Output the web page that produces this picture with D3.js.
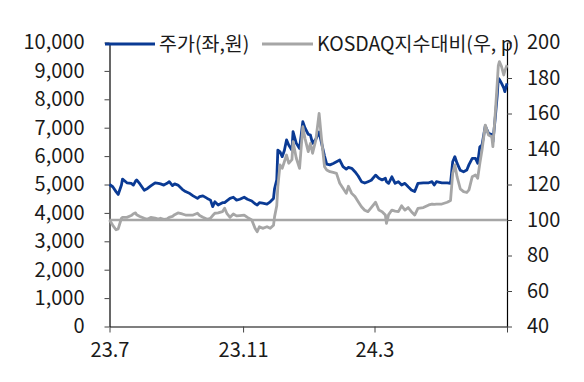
<!DOCTYPE html>
<html>
<head>
<meta charset="utf-8">
<script src="https://cdn.jsdelivr.net/npm/d3@7/dist/d3.min.js"></script>
<style>
  html, body { margin: 0; padding: 0; background: #fff; }
  svg { display: block; font-family: "Noto Sans CJK KR", "Noto Sans", sans-serif; }
</style>
</head>
<body>
<svg id="chart" width="584" height="382"></svg>
<script>
// ---- data ----
const dates = [
"2023-07-01","2023-07-04","2023-07-07","2023-07-09","2023-07-12","2023-07-13","2023-07-17","2023-07-21","2023-07-23","2023-07-25",
"2023-07-26","2023-07-29","2023-08-02","2023-08-05","2023-08-08","2023-08-12","2023-08-15","2023-08-17","2023-08-20","2023-08-23",
"2023-08-25","2023-08-28","2023-08-30","2023-09-02","2023-09-06","2023-09-09","2023-09-13","2023-09-16","2023-09-20","2023-09-22",
"2023-09-25","2023-09-29","2023-10-02","2023-10-04","2023-10-06","2023-10-09","2023-10-13","2023-10-15","2023-10-17","2023-10-20",
"2023-10-23","2023-10-26","2023-10-29","2023-11-02","2023-11-05","2023-11-09","2023-11-12","2023-11-14","2023-11-16","2023-11-19",
"2023-11-23","2023-11-26","2023-11-29","2023-11-30","2023-12-02","2023-12-03","2023-12-05","2023-12-07","2023-12-09","2023-12-11",
"2023-12-13","2023-12-16","2023-12-17","2023-12-20","2023-12-23","2023-12-26","2023-12-28","2023-12-31","2024-01-02","2024-01-04",
"2024-01-07","2024-01-10","2024-01-12","2024-01-15","2024-01-17","2024-01-20","2024-01-23","2024-01-26","2024-01-29","2024-02-01",
"2024-02-04","2024-02-06","2024-02-09","2024-02-12","2024-02-15","2024-02-18","2024-02-21","2024-02-24","2024-02-27","2024-03-02",
"2024-03-05","2024-03-08","2024-03-11","2024-03-12","2024-03-14","2024-03-17","2024-03-20","2024-03-23","2024-03-26","2024-03-29",
"2024-04-01","2024-04-04","2024-04-07","2024-04-10","2024-04-15","2024-04-20","2024-04-23","2024-04-25","2024-04-27","2024-05-02",
"2024-05-07","2024-05-10","2024-05-12","2024-05-14","2024-05-16","2024-05-19","2024-05-22","2024-05-25","2024-05-27","2024-05-30",
"2024-06-02","2024-06-04","2024-06-06","2024-06-08","2024-06-11","2024-06-14","2024-06-17","2024-06-18","2024-06-20","2024-06-22",
"2024-06-23","2024-06-24","2024-06-26","2024-06-28","2024-06-29","2024-07-01"
];
const price = [
5000,4920,4750,4650,4980,5190,5060,5040,4980,5120,
5160,5020,4800,4860,4950,5060,5040,5020,4980,5040,
5100,4960,5020,4980,4830,4750,4680,4600,4510,4570,
4600,4510,4450,4220,4390,4280,4360,4360,4420,4510,
4550,4450,4480,4550,4480,4420,4320,4280,4360,4340,
4310,4390,4510,4860,5160,6210,6150,5980,6200,6570,
6390,6210,6860,6450,6270,7210,6990,6770,6740,6450,
6600,6850,6500,6000,5720,5690,5740,5800,5860,5630,
5540,5600,5570,5450,5300,5100,5050,5100,5150,5330,
5220,5160,5220,5100,5040,5270,5040,5100,4980,5040,
4920,4810,4750,5040,5060,5060,5100,4980,5100,5060,
5060,5040,5800,5980,5750,5500,5450,5510,5700,5920,
5920,5750,6330,6390,7060,6800,6760,6500,7280,8140,
8740,8700,8560,8400,8270,8560
];
const kosdaqRel = [
100,97,94.5,95,101,101.5,101.5,102.5,103.5,104,
103,102,101,100.4,101.5,101,100.5,101,100.4,100.6,
101.5,102,103,104,103.4,102.8,102.8,102.8,103.8,102.5,
101.5,100.4,101,102.5,103.8,104,104.7,106.6,103.8,101.5,
103.4,102.3,102.5,102.8,101.5,100,95.3,93.4,96.2,95.3,
96.2,95.3,97,101.9,108,118.8,131,129.1,132.8,136.6,
132,134,144.1,134.8,129.1,152.6,146,138.5,143.2,137.6,
145.1,160,146.9,130,128.2,127.2,126.8,126.3,120.7,117.9,
115,119,115,113.2,110.3,107.5,105.5,104.7,107,110,
105.6,104.7,102.8,98.1,103,105.6,105,104.7,108,105.6,
107,104.7,102.8,106.6,107,108.5,109,108.8,109,109,
110,111,126.3,131,124.4,117.5,116,115.5,117,124.4,
125.4,123.5,132,139.4,153.5,147.9,146.9,141.3,158.2,177,
187,189.2,186.4,181.7,184,187.3
];
const leftTicks = [0,1000,2000,3000,4000,5000,6000,7000,8000,9000,10000];
const rightTicks = [40,60,80,100,120,140,160,180,200];
const xTickDates = ["2023-07-01","2023-11-01","2024-03-01","2024-07-01"];
const xTickLabels = ["23.7","23.11","24.3",""];
const baseLevel = 100;
const seriesNames = ["주가(좌,원)", "KOSDAQ지수대비(우, p)"];

// ---- chart ----
const parse = d3.timeParse("%Y-%m-%d");
const svg = d3.select("#chart");
const L = 109.5, R = 507, T = 42.5, B = 326.5;
const blue = "#0a3a94", gray = "#a6a6a6", ink = "#1a1a1a";

const x = d3.scaleTime().domain([parse("2023-07-01"), parse("2024-07-01")]).range([L, R]);
const yL = d3.scaleLinear().domain([0, 10000]).range([B, T]);
const yR = d3.scaleLinear().domain([40, 200]).range([B, T]);

const rows = dates.map((d, i) => ({ date: parse(d), p: price[i], k: kosdaqRel[i] }));

// axes
const gl = svg.append("g").attr("transform", `translate(${L},0)`)
  .call(d3.axisLeft(yL).tickValues(leftTicks).tickFormat(d3.format(",")).tickSize(5).tickSizeOuter(0).tickPadding(20));
const gr = svg.append("g").attr("transform", `translate(${R},0)`)
  .call(d3.axisRight(yR).tickValues(rightTicks).tickSize(5).tickSizeOuter(0).tickPadding(15));
const gb = svg.append("g").attr("transform", `translate(0,${B})`)
  .call(d3.axisBottom(x).tickValues(xTickDates.map(parse)).tickFormat((d, i) => xTickLabels[i]).tickSize(6).tickSizeOuter(0).tickPadding(10));

[gl, gr, gb].forEach(g => {
  g.select(".domain").attr("stroke", "#000").attr("stroke-width", 1.2);
  g.selectAll(".tick line").attr("stroke", "#444");
  g.selectAll(".tick text").attr("fill", ink).style("font-size", "20px")
    .style("font-family", '"Noto Sans CJK KR", "Noto Sans", sans-serif');
});

// baseline at 100
svg.append("line")
  .attr("x1", L).attr("x2", R)
  .attr("y1", yR(baseLevel)).attr("y2", yR(baseLevel))
  .attr("stroke", gray).attr("stroke-width", 2.4);

// series
svg.append("path").datum(rows)
  .attr("fill", "none").attr("stroke", blue).attr("stroke-width", 2.8).attr("stroke-linejoin", "round")
  .attr("d", d3.line().x(d => x(d.date)).y(d => yL(d.p)));
svg.append("path").datum(rows)
  .attr("fill", "none").attr("stroke", gray).attr("stroke-width", 2.8).attr("stroke-linejoin", "round")
  .attr("d", d3.line().x(d => x(d.date)).y(d => yR(d.k)));

// legend
const legY = 44;
const leg = svg.append("g");
leg.append("line").attr("x1", 105).attr("x2", 155).attr("y1", legY).attr("y2", legY)
  .attr("stroke", blue).attr("stroke-width", 2.8);
leg.append("text").attr("x", 159).attr("y", legY).attr("dy", "0.35em")
  .attr("fill", ink).style("font-size", "19.5px").text(seriesNames[0]);
leg.append("line").attr("x1", 262).attr("x2", 313).attr("y1", legY).attr("y2", legY)
  .attr("stroke", gray).attr("stroke-width", 2.8);
leg.append("text").attr("x", 317).attr("y", legY).attr("dy", "0.35em")
  .attr("fill", ink).style("font-size", "19.5px").text(seriesNames[1]);
</script>
</body>
</html>
